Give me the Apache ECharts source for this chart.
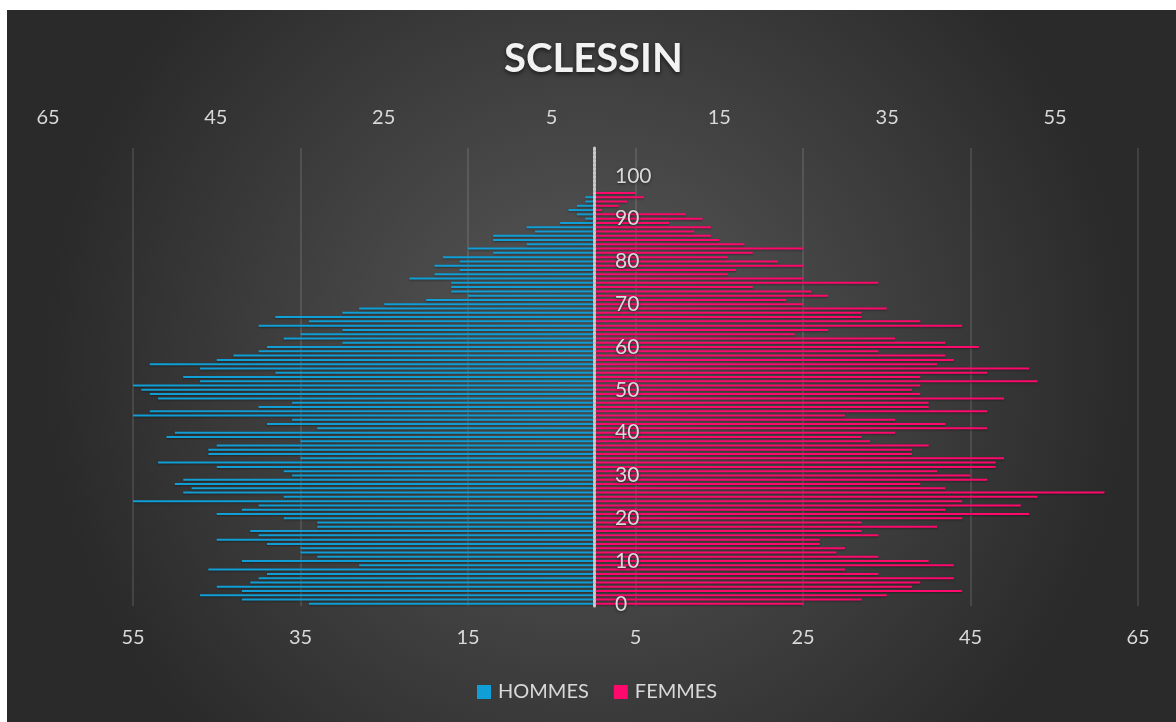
<!DOCTYPE html>
<html>
<head>
<meta charset="utf-8">
<script src="https://cdn.jsdelivr.net/npm/echarts@6/dist/echarts.min.js"></script>
<style>
  html, body { margin: 0; padding: 0; background: #fff; }
  #main { width: 1176px; height: 722px; }
</style>
</head>
<body>
<div id="main"></div>
<script>
// ages 0..106 (Excel category range), labels every 10
var ages = [];
for (var a = 0; a <= 106; a++) { ages.push(String(a)); }

// HOMMES per age, 0..96
var hommes = [34, 42, 47, 42, 45, 41, 40, 39, 46, 28,
              42, 33, 35, 35, 39, 45, 40, 41, 33, 33,
              37, 45, 42, 40, 55, 37, 49, 48, 50, 49,
              36, 37, 45, 52, 35, 46, 46, 45, 35, 51,
              50, 33, 39, 36, 55, 53, 40, 36, 52, 53,
              54, 58, 47, 49, 38, 47, 53, 45, 43, 40,
              39, 30, 37, 35, 30, 40, 34, 38, 30, 28,
              25, 20, 15, 17, 17, 17, 22, 19, 16, 19,
              16, 18, 12, 15, 8, 12, 12, 7, 8, 4,
              1, 2, 3, 2, 1, 1, 0];

// FEMMES per age, 0..96
var femmes = [25, 32, 35, 44, 38, 39, 43, 34, 30, 43,
              40, 34, 29, 30, 27, 27, 34, 32, 41, 32,
              44, 52, 42, 51, 44, 53, 61, 42, 39, 47,
              45, 41, 48, 48, 49, 38, 38, 40, 33, 32,
              36, 47, 42, 36, 30, 47, 40, 40, 49, 39,
              38, 39, 53, 39, 47, 52, 41, 43, 42, 34,
              46, 42, 36, 24, 28, 44, 39, 32, 32, 35,
              25, 23, 28, 26, 19, 34, 25, 16, 17, 25,
              22, 16, 19, 25, 18, 15, 14, 12, 14, 9,
              13, 11, 1, 3, 4, 6, 5];

var hommesNeg = hommes.map(function (v) { return -v; });

var txt = '#d9d9d9';
var font = 'Lato';

var myChart = echarts.init(document.getElementById('main'));
var option = {
    backgroundColor: {
        type: 'radial', x: 0.5, y: 0.5, r: 0.75,
        colorStops: [{offset: 0, color: '#595959'}, {offset: 1, color: '#2a2a2a'}]
    },
    title: {
        text: 'SCLESSIN', left: 499, top: 34,
        textStyle: {
            color: '#f2f2f2', fontFamily: font, fontWeight: 'bold', fontSize: 40,
            textShadowColor: 'rgba(0,0,0,0.6)', textShadowBlur: 4, textShadowOffsetY: 2
        }
    },
    graphic: [
        {type: 'rect', shape: {x: 0, y: 0, width: 1176, height: 10}, style: {fill: '#fff'}, z: 100},
        {type: 'rect', shape: {x: 0, y: 0, width: 7, height: 722}, style: {fill: '#fff'}, z: 100}
    ],
    legend: {
        bottom: 15, left: 472, icon: 'rect', itemWidth: 14, itemHeight: 14, itemGap: 25,
        textStyle: {color: txt, fontFamily: font, fontSize: 20, padding: [0, 0, 0, 2]},
        data: ['HOMMES', 'FEMMES']
    },
    grid: [
        {left: 133, right: 38, top: 148, bottom: 116},
        {left: 48, right: 121, top: 148, bottom: 116}
    ],
    xAxis: [
        {
            type: 'value', gridIndex: 0, position: 'bottom', min: -55, max: 65, interval: 20,
            axisLine: {show: false}, axisTick: {show: false},
            axisLabel: {color: txt, fontFamily: font, fontSize: 20, margin: 22,
                formatter: function (v) { return Math.abs(v); }},
            splitLine: {lineStyle: {color: 'rgba(255,255,255,0.15)', width: 1.5}}
        },
        {
            type: 'value', gridIndex: 1, position: 'top', min: -65, max: 55, interval: 20,
            axisLine: {show: false}, axisTick: {show: false}, splitLine: {show: false},
            axisLabel: {color: txt, fontFamily: font, fontSize: 20, margin: 20,
                formatter: function (v) { return Math.abs(v); }}
        }
    ],
    yAxis: [
        {
            // moved onto the zero line of the value axis (594px), drawn over the bars
            type: 'category', gridIndex: 0, data: ages, offset: -461, z: 10,
            axisLine: {onZero: false, lineStyle: {color: '#c8c8c8', width: 3, type: [2, 2]}},
            axisTick: {show: false},
            axisLabel: {inside: true, interval: 9, margin: 21, color: txt, fontFamily: font, fontSize: 21,
                textShadowColor: 'rgba(0,0,0,0.5)', textShadowBlur: 3, textShadowOffsetY: 1}
        },
        {
            type: 'category', gridIndex: 1, data: ages, show: false
        }
    ],
    tooltip: {
        trigger: 'axis', axisPointer: {type: 'shadow'},
        valueFormatter: function (v) { return Math.abs(v); }
    },
    series: [
        {
            name: 'HOMMES', type: 'bar', xAxisIndex: 0, yAxisIndex: 0,
            data: hommesNeg, barWidth: 2, barGap: '-100%',
            itemStyle: {color: '#0F9ED5', shadowColor: 'rgba(0,0,0,0.35)', shadowBlur: 2, shadowOffsetY: 1}
        },
        {
            name: 'FEMMES', type: 'bar', xAxisIndex: 0, yAxisIndex: 0,
            data: femmes, barWidth: 2, barGap: '-100%',
            itemStyle: {color: '#FF0A6C', shadowColor: 'rgba(0,0,0,0.35)', shadowBlur: 2, shadowOffsetY: 1}
        }
    ]
};
myChart.setOption(option);
</script>
</body>
</html>
